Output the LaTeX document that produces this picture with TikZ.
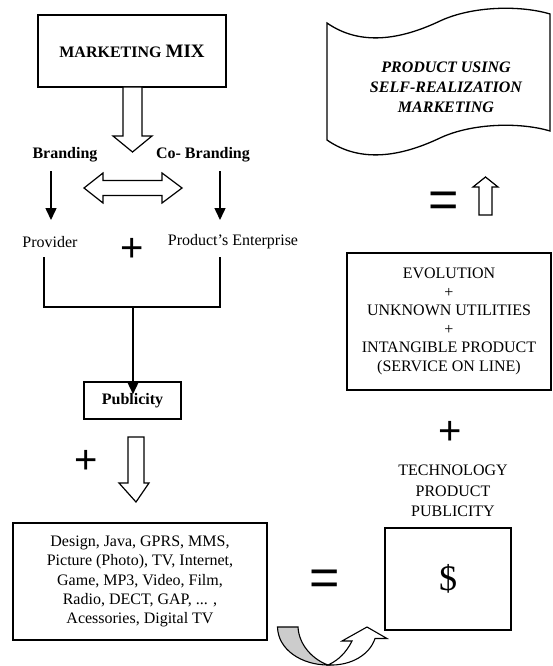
\documentclass[tikz,border=0pt]{standalone}
\usepackage{fontspec}
\setmainfont{Liberation Serif}
\newfontfamily\symfont{Liberation Sans}
\usetikzlibrary{arrows.meta}
\begin{document}
\begin{tikzpicture}[x=1pt,y=-1pt,
  txt/.style={font=\fontsize{16}{18.5}\selectfont, inner sep=0pt, align=center},
  boxed/.style={draw, line width=1.6pt, inner sep=0pt, align=center},
  bigsym/.style={font=\symfont\fontsize{40}{40}\selectfont, inner sep=0pt},
  eqsym/.style={font=\symfont\fontsize{52}{52}\selectfont, inner sep=0pt},
  link/.style={line width=1.5pt},
  thinarrow/.style={line width=1.5pt, -{Triangle[length=12pt,width=11pt]}},
  hollow/.style={draw, line width=1.2pt, fill=white, line join=miter},
]
\useasboundingbox (0,0) rectangle (552,666);

% ---------- left column ----------
\node[boxed, minimum width=188pt, minimum height=72pt] (mix) at (132,51)
  {\fontsize{16}{18}\selectfont\bfseries MARKETING \fontsize{19}{20}\selectfont MIX};

% block arrow from the marketing mix
\draw[hollow] (123,87) -- (142,87) -- (142,136) -- (152,136) -- (132.5,152)
  -- (113,136) -- (123,136) -- cycle;

\node[txt, font=\fontsize{16}{18.5}\selectfont\bfseries] (branding) at (65,155) {Branding};
\node[txt, font=\fontsize{16}{18.5}\selectfont\bfseries] (cobranding) at (203,155) {Co- Branding};

% two-way block arrow
\draw[hollow] (84,188) -- (103,173) -- (103,180.5) -- (162,180.5) -- (162,173)
  -- (182,188) -- (162,203) -- (162,195.5) -- (103,195.5) -- (103,203) -- cycle;

\node[txt] (provider) at (50,242) {Provider};
\node[txt] (enterprise) at (233,242) {Product’s Enterprise};
\node[bigsym] (plus1) at (132,250) {+};

\coordinate (bl) at (51,171);
\coordinate (br) at (220,171);
\draw[thinarrow] (bl) -- (bl |- 0,220);
\draw[thinarrow] (br) -- (br |- 0,220);

% bracket joining provider and enterprise
\coordinate (pl) at (44,257);
\coordinate (pr) at (220,257);
\coordinate (join) at (133,307);
\draw[link] (pl) -- (44,307) -- (220,307) -- (pr);

\node[boxed, minimum width=97pt, minimum height=37pt,
  font=\fontsize{16}{18.5}\selectfont\bfseries] (publicity) at (132.5,400.5) {Publicity};
\draw[thinarrow] (join) -- ([yshift=-13pt]publicity.north -| join);

\node[bigsym] (plus2) at (86,462) {+};
\draw[hollow] (128,437) -- (144,437) -- (144,483) -- (149,483) -- (136,502)
  -- (119,483) -- (128,483) -- cycle;

\node[boxed, minimum width=254pt, minimum height=117pt,
  font=\fontsize{16}{19.3}\selectfont] (media) at (140,581.5)
  {Design, Java, GPRS, MMS,\\ Picture (Photo), TV, Internet,\\ Game, MP3, Video, Film,\\
   Radio, DECT, GAP, ... ,\\ Acessories, Digital TV};

% curved return arrow
\filldraw[line width=1.1pt, fill=gray!40] (277.5,627) .. controls (278,650) and (302,665) .. (328,665)
  .. controls (314,660) and (299,646) .. (298,627) -- cycle;
\draw[hollow, line width=1.1pt] (328,665) .. controls (352,666) and (370,654) .. (375,638.5)
  -- (387,638.5) -- (367,627) -- (342,641) -- (352,641)
  .. controls (346,653) and (338,660) .. (330,664) -- cycle;

\node[eqsym] (eq1) at (325,583) {=};

% ---------- right column ----------
\node[boxed, minimum width=126pt, minimum height=102pt,
  font=\fontsize{36}{36}\selectfont] (dollar) at (448,579) {\$};

\node[txt, font=\fontsize{16}{20.5}\selectfont] (tech) at (453,491)
  {TECHNOLOGY\\ PRODUCT\\ PUBLICITY};
\node[bigsym] (plus3) at (450,433) {+};

\node[boxed, minimum width=204pt, minimum height=137pt,
  font=\fontsize{16}{18.6}\selectfont] (evolution) at (449,321.5)
  {EVOLUTION\\ +\\ UNKNOWN UTILITIES\\ +\\ INTANGIBLE PRODUCT\\ (SERVICE ON LINE)};

\node[eqsym] (eq2) at (444,205) {=};
\draw[hollow] (479,215) -- (479,187) -- (473,187) -- (485.5,177) -- (498,187)
  -- (492,187) -- (492,215) -- cycle;

% waving banner
\draw[line width=1.3pt, fill=white] (327,23) .. controls (360,46) and (400,40) .. (440,21)
  .. controls (472,6) and (520,5) .. (550,14) -- (550,131)
  .. controls (520,122) and (472,123) .. (440,138)
  .. controls (400,157) and (360,163) .. (327,140) -- cycle;
\node[txt, font=\fontsize{16}{20}\selectfont\bfseries\itshape] (product) at (446,87)
  {PRODUCT USING\\ SELF-REALIZATION\\ MARKETING};
\end{tikzpicture}
\end{document}
